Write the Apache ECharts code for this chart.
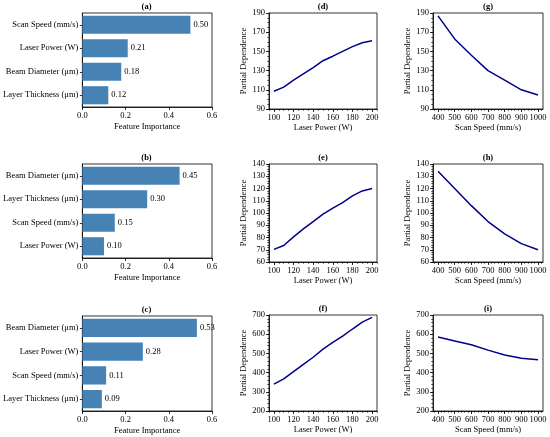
<!DOCTYPE html>
<html>
<head>
<meta charset="utf-8">
<script src="https://cdn.jsdelivr.net/npm/echarts@6/dist/echarts.min.js"></script>
<style>
  html, body { margin: 0; padding: 0; background: #fff; }
  #chart { width: 550px; height: 437px; }
</style>
</head>
<body>
<div id="chart"></div>
<script>
// feature importance panels (a)-(c), listed top to bottom
var catsA = ['Scan Speed (mm/s)', 'Laser Power (W)', 'Beam Diameter (μm)', 'Layer Thickness (μm)'];
var impA = [0.50, 0.21, 0.18, 0.12];
var catsB = ['Beam Diameter (μm)', 'Layer Thickness (μm)', 'Scan Speed (mm/s)', 'Laser Power (W)'];
var impB = [0.45, 0.30, 0.15, 0.10];
var catsC = ['Beam Diameter (μm)', 'Laser Power (W)', 'Scan Speed (mm/s)', 'Layer Thickness (μm)'];
var impC = [0.53, 0.28, 0.11, 0.09];
var impTicks = [0, 0.2, 0.4, 0.6];

// partial dependence panels
var laserPower = [100, 110, 120, 130, 140, 150, 160, 170, 180, 190, 200];
var scanSpeed = [400, 500, 600, 700, 800, 900, 1000];
var pdD = [108.5, 112.8, 120, 126.5, 133, 140.3, 145, 150, 155, 159, 161];
var pdE = [70.3, 73.5, 80.5, 87, 93, 99, 104, 108.5, 114, 118, 120];
var pdF = [340, 367, 405, 443, 480, 522, 557, 590, 627, 663, 688];
var pdG = [187, 163, 146, 130, 120, 110, 104.6];
var pdH = [134, 120, 106, 93, 83, 75, 70];
var pdI = [585, 565, 545, 517, 492, 475, 467];

var lpTicks = [100, 120, 140, 160, 180, 200];
var ssTicks = [400, 500, 600, 700, 800, 900, 1000];
var yTicksD = [90, 110, 130, 150, 170, 190];
var yTicksE = [60, 70, 80, 90, 100, 110, 120, 130, 140];
var yTicksF = [200, 300, 400, 500, 600, 700];

var FONT = 'Liberation Serif';
var FS = 8.5;
var BLACK = '#000';

var grids = [], xAxes = [], yAxes = [], series = [], titles = [];

function minorList(min, max, step) {
  var out = [];
  for (var v = Math.ceil(min / step) * step; v <= max + 1e-9; v += step) out.push(+v.toFixed(6));
  return out;
}

function plain(v) { return String(v); }

function addTitle(text, cx, y) {
  titles.push({
    text: text, left: cx, top: y, textAlign: 'center', padding: 0,
    textStyle: { fontFamily: FONT, fontSize: FS, fontWeight: 'bold', color: BLACK }
  });
}

function addBarPanel(title, cats, vals, left, top, w, h) {
  var g = grids.length;
  grids.push({ left: left, top: top, width: w, height: h, show: true, borderColor: BLACK, borderWidth: 0.8, containLabel: false });
  addTitle(title, left + w / 2, top - 10.5);
  xAxes.push({
    gridIndex: g, type: 'value', min: 0, max: 0.6, interval: 0.2,
    name: 'Feature Importance', nameLocation: 'middle', nameGap: 15,
    nameTextStyle: { fontFamily: FONT, fontSize: FS, color: BLACK },
    axisLine: { show: true, lineStyle: { color: BLACK, width: 0.8 } },
    axisTick: { show: true, length: 3, lineStyle: { color: BLACK, width: 0.8 } },
    axisLabel: { margin: 4, fontFamily: FONT, fontSize: FS, color: BLACK, formatter: function (v) { return v.toFixed(1); } },
    splitLine: { show: false }
  });
  yAxes.push({
    gridIndex: g, type: 'category', data: cats, inverse: true,
    axisLine: { show: true, lineStyle: { color: BLACK, width: 0.8 } },
    axisTick: { show: true, alignWithLabel: true, length: 2.5, lineStyle: { color: BLACK, width: 0.8 } },
    axisLabel: { margin: 4, fontFamily: FONT, fontSize: FS, color: BLACK },
    splitLine: { show: false }
  });
  series.push({
    type: 'bar', xAxisIndex: xAxes.length - 1, yAxisIndex: yAxes.length - 1,
    data: vals, barWidth: '77%', itemStyle: { color: '#4682b4' },
    label: {
      show: true, position: 'right', distance: 3, fontFamily: FONT, fontSize: FS, color: BLACK,
      formatter: function (p) { return p.value.toFixed(2); }
    },
    silent: true
  });
}

function addLinePanel(title, xs, ys, xName, xMin, xMax, xTicks, xMinor, yMin, yMax, yTicks, yMinor, left, top, w, h) {
  var g = grids.length;
  grids.push({ left: left, top: top, width: w, height: h, show: true, borderColor: BLACK, borderWidth: 0.8, containLabel: false });
  addTitle(title, left + w / 2, top - 10.5);
  var lineAx = { show: true, lineStyle: { color: BLACK, width: 0.8 } };
  var lbl = { fontFamily: FONT, fontSize: FS, color: BLACK, formatter: plain };
  // major x
  xAxes.push({
    gridIndex: g, type: 'value', min: xMin, max: xMax, position: 'bottom',
    name: xName, nameLocation: 'middle', nameGap: 13,
    nameTextStyle: { fontFamily: FONT, fontSize: FS, color: BLACK },
    axisLine: lineAx,
    axisTick: { show: true, length: 3, customValues: xTicks, lineStyle: { color: BLACK, width: 0.8 } },
    axisLabel: Object.assign({ margin: 4, customValues: xTicks }, lbl),
    splitLine: { show: false }
  });
  var xi = xAxes.length - 1;
  // minor x
  xAxes.push({
    gridIndex: g, type: 'value', min: xMin, max: xMax, position: 'bottom',
    axisLine: { show: false },
    axisTick: { show: true, length: 1.8, customValues: minorList(xMin, xMax, xMinor), lineStyle: { color: BLACK, width: 0.6 } },
    axisLabel: { show: false }, splitLine: { show: false }
  });
  // major y
  yAxes.push({
    gridIndex: g, type: 'value', min: yMin, max: yMax, position: 'left',
    name: 'Partial Dependence', nameLocation: 'middle', nameGap: 20, nameRotate: 90,
    nameTextStyle: { fontFamily: FONT, fontSize: FS, color: BLACK },
    axisLine: lineAx,
    axisTick: { show: true, length: 3, customValues: yTicks, lineStyle: { color: BLACK, width: 0.8 } },
    axisLabel: Object.assign({ margin: 4, customValues: yTicks }, lbl),
    splitLine: { show: false }
  });
  var yi = yAxes.length - 1;
  // minor y
  yAxes.push({
    gridIndex: g, type: 'value', min: yMin, max: yMax, position: 'left',
    axisLine: { show: false },
    axisTick: { show: true, length: 1.8, customValues: minorList(yMin, yMax, yMinor), lineStyle: { color: BLACK, width: 0.6 } },
    axisLabel: { show: false }, splitLine: { show: false }
  });
  var pts = xs.map(function (x, i) { return [x, ys[i]]; });
  series.push({
    type: 'line', xAxisIndex: xi, yAxisIndex: yi, data: pts,
    showSymbol: false, symbol: 'none', smooth: false,
    lineStyle: { color: '#00008b', width: 1.5 }, silent: true
  });
}

addBarPanel('(a)', catsA, impA, 81, 13, 131, 94);
addBarPanel('(b)', catsB, impB, 81, 164, 131, 94);
addBarPanel('(c)', catsC, impC, 81, 316, 131, 95);

addLinePanel('(d)', laserPower, pdD, 'Laser Power (W)', 95, 205, lpTicks, 5, 90, 190, yTicksD, 5, 269, 13, 108, 96);
addLinePanel('(e)', laserPower, pdE, 'Laser Power (W)', 95, 205, lpTicks, 5, 60, 140, yTicksE, 2, 269, 164, 108, 98);
addLinePanel('(f)', laserPower, pdF, 'Laser Power (W)', 95, 205, lpTicks, 5, 200, 700, yTicksF, 20, 269, 315, 108, 96);
addLinePanel('(g)', scanSpeed, pdG, 'Scan Speed (mm/s)', 370, 1030, ssTicks, 20, 90, 190, yTicksD, 5, 433, 13, 110, 96);
addLinePanel('(h)', scanSpeed, pdH, 'Scan Speed (mm/s)', 370, 1030, ssTicks, 20, 60, 140, yTicksE, 2, 433, 164, 110, 98);
addLinePanel('(i)', scanSpeed, pdI, 'Scan Speed (mm/s)', 370, 1030, ssTicks, 20, 200, 700, yTicksF, 20, 433, 315, 110, 96);

var myChart = echarts.init(document.getElementById('chart'), null, { renderer: 'canvas' });
myChart.setOption({
  animation: false,
  backgroundColor: '#fff',
  textStyle: { fontFamily: FONT },
  title: titles,
  grid: grids,
  xAxis: xAxes,
  yAxis: yAxes,
  series: series
});
</script>
</body>
</html>
